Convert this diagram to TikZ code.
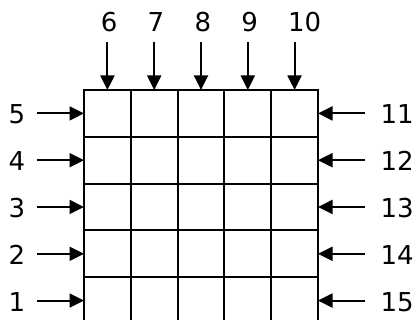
\documentclass[tikz,border=0pt]{standalone}
\usepackage{fontspec}
\setmainfont{DejaVu Sans}
\usetikzlibrary{arrows.meta}
\begin{document}
\begin{tikzpicture}[x=1pt,y=1pt,
  cell/.style={draw, line width=1.9pt, minimum width=46.8pt, minimum height=46.8pt, inner sep=0pt, outer sep=0pt},
  lbl/.style={inner sep=0pt, outer sep=0pt, font=\fontsize{26}{31}\selectfont},
  arr/.style={line width=1.9pt, -{Triangle[length=14.5pt,width=14pt]}}]
\useasboundingbox (0,0) rectangle (416,320);
\clip (0,0) rectangle (416,320);
\foreach \r in {1,...,5}{
  \foreach \k in {1,...,5}{
    \node[cell] (c\r\k) at ({84+46.8*(\k-0.5)},{230-46.8*(\r-0.5)}) {};
  }
}
% left labels and arrows
\foreach \r in {1,...,5}{
  \pgfmathtruncatemacro{\n}{6-\r}
  \node[lbl, anchor=base] (L\r) at (17,{230-46.8*(\r-0.5)-10.5}) {\n};
  \draw[arr, shorten <=11.5pt] (L\r.east |- c\r1.west) -- (c\r1.west);
}
% right labels and arrows
\foreach \r in {1,...,5}{
  \pgfmathtruncatemacro{\n}{10+\r}
  \node[lbl, anchor=base west] (R\r) at (380.5,{230-46.8*(\r-0.5)-10.5}) {\n};
  \draw[arr, shorten <=15.5pt] (R\r.west |- c\r5.east) -- (c\r5.east);
}
% top labels and arrows
\foreach \k in {1,...,5}{
  \pgfmathtruncatemacro{\n}{5+\k}
  \node[lbl, anchor=base west] (T\k) at ({84+46.8*(\k-0.5)-6.5},288.3) {\n};
  \draw[arr, shorten <=10pt] (T\k.south -| c1\k.north) -- (c1\k.north);
}
\end{tikzpicture}
\end{document}
